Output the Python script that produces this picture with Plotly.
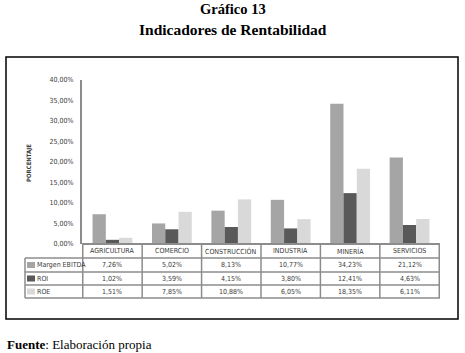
import plotly.graph_objects as go

categories = ["AGRICULTURA", "COMERCIO", "CONSTRUCCIÓN", "INDUSTRIA", "MINERÍA", "SERVICIOS"]
margen_ebitda = [7.26, 5.02, 8.13, 10.77, 34.23, 21.12]
roi = [1.02, 3.59, 4.15, 3.80, 12.41, 4.63]
roe = [1.51, 7.85, 10.88, 6.05, 18.35, 6.11]
series_names = ["Margen EBITDA", "ROI", "ROE"]
y_ticks = [0, 5, 10, 15, 20, 25, 30, 35, 40]

W, H = 465, 353
colors = ["#a5a5a5", "#595959", "#d9d9d9"]
series = [margen_ebitda, roi, roe]

def px(x):
    return x / W

def py(y):
    return 1 - y / H

def fmt(v):
    return ("%.2f" % v).replace(".", ",") + "%"

fig = go.Figure()
for name, vals, c in zip(series_names, series, colors):
    fig.add_trace(go.Bar(x=categories, y=vals, name=name, marker=dict(color=c, line=dict(width=0)),
                         showlegend=False))

sans = "Liberation Sans Narrow, DejaVu Sans Condensed, Liberation Sans"
serif = "Liberation Serif"
grid_c = "#8c8c8c"
txt_c = "#3a3a3a"

shapes = []
annotations = []

def ann(**kw):
    kw.setdefault("xanchor", "center")
    kw.setdefault("yanchor", "middle")
    kw.setdefault("showarrow", False)
    annotations.append(kw)

# outer box
shapes.append(dict(type="rect", xref="paper", yref="paper", x0=px(6), x1=px(458), y0=py(57), y1=py(319),
                   line=dict(color="black", width=1.5)))

# table geometry (pixels)
t_left, t_right = 25, 440
rows_y = [244, 258, 272, 285, 298]
shapes.append(dict(type="line", xref="paper", yref="paper", x0=px(82), x1=px(t_right), y0=py(rows_y[0]), y1=py(rows_y[0]),
                   line=dict(color=grid_c, width=2)))
for yy in rows_y[1:]:
    shapes.append(dict(type="line", xref="paper", yref="paper", x0=px(t_left), x1=px(t_right), y0=py(yy), y1=py(yy),
                       line=dict(color=grid_c, width=1.5)))
shapes.append(dict(type="line", xref="paper", yref="paper", x0=px(t_left), x1=px(t_left), y0=py(rows_y[1]), y1=py(rows_y[-1]),
                   line=dict(color=grid_c, width=1.5)))
for i in range(len(categories) + 1):
    shapes.append(dict(type="line", xref="x", yref="paper", x0=i - 0.5, x1=i - 0.5, y0=py(rows_y[0]), y1=py(rows_y[-1]),
                       line=dict(color=grid_c, width=1.5)))

for cat in categories:
    ann(x=cat, xref="x", y=py((rows_y[0] + rows_y[1]) / 2), yref="paper", text=cat,
        font=dict(family=sans, size=7, color=txt_c))
for r, (name, vals, c) in enumerate(zip(series_names, series, colors)):
    ymid = (rows_y[r + 1] + rows_y[r + 2]) / 2
    shapes.append(dict(type="rect", xref="paper", yref="paper", x0=px(27), x1=px(35), y0=py(ymid + 3), y1=py(ymid - 3),
                       fillcolor=c, line=dict(width=0)))
    ann(x=px(35), xref="paper", y=py(ymid), yref="paper", text=name, xanchor="left",
        font=dict(family=sans, size=7, color=txt_c))
    for cat, v in zip(categories, vals):
        ann(x=cat, xref="x", y=py(ymid), yref="paper", text=fmt(v),
            font=dict(family=sans, size=7, color=txt_c))

ann(x=px(29), xref="paper", y=py(163), yref="paper", text="<b>PORCENTAJE</b>", textangle=-90,
    font=dict(family=sans, size=6, color=txt_c))

ann(x=0.5, xref="paper", y=py(9), yref="paper", text="<b>Gráfico 13</b>",
    font=dict(family=serif, size=14.5, color="black"))
ann(x=0.5, xref="paper", y=py(29), yref="paper", text="<b>Indicadores de Rentabilidad</b>",
    font=dict(family=serif, size=15.5, color="black"))
ann(x=px(5), xref="paper", y=py(344), yref="paper", xanchor="left",
    text="<b>Fuente</b>: Elaboración propia", font=dict(family=serif, size=13, color="black"))

fig.update_layout(
    width=W, height=H,
    margin=dict(l=0, r=0, t=0, b=0, autoexpand=False),
    paper_bgcolor="white", plot_bgcolor="white",
    barmode="group", bargap=0.33, bargroupgap=0,
    xaxis=dict(domain=[px(82), px(t_right)], showticklabels=False, showgrid=False, zeroline=False,
               showline=False, ticks=""),
    yaxis=dict(domain=[py(244), py(80)], range=[0, 40], tickvals=y_ticks, ticktext=[fmt(t) for t in y_ticks],
               showgrid=False, zeroline=False, showline=True, linecolor=grid_c, linewidth=2,
               ticks="", tickfont=dict(family=sans, size=7, color=txt_c), ticklabelstandoff=5),
    shapes=shapes, annotations=annotations,
)

fig.write_html("out.html", config={"displayModeBar": False},
               post_script="document.body.style.margin='0';")
